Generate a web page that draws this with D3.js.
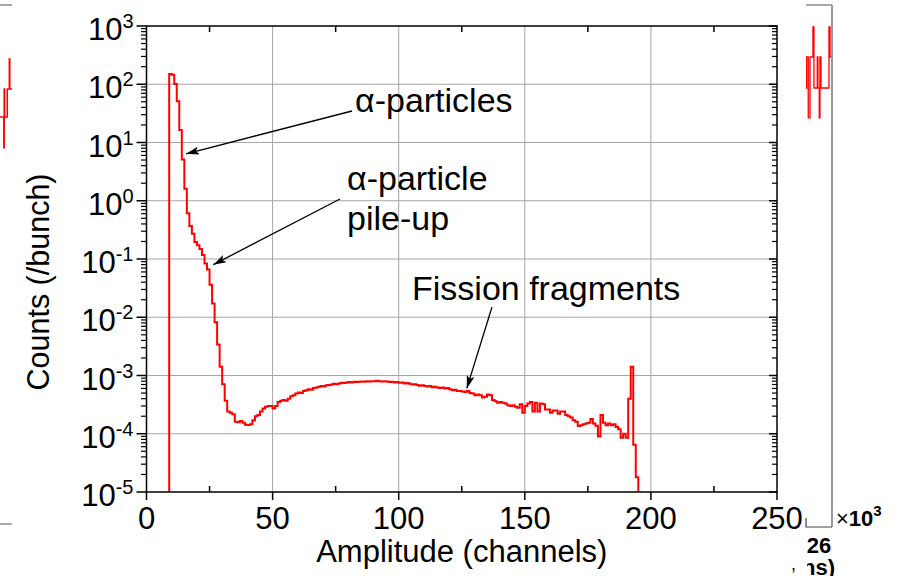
<!DOCTYPE html>
<html>
<head>
<meta charset="utf-8">
<script src="https://cdn.jsdelivr.net/npm/d3@7"></script>
<style>
  body { margin: 0; background: #fff; }
  svg { display: block; font-family: "Liberation Sans", Arial, sans-serif; }
</style>
</head>
<body>
<svg id="chart" width="902" height="576"></svg>
<script>
// ---- Spectrum data: counts per bunch, one bin per channel, starting at firstChannel ----
const firstChannel = 9;
const counts = [
  150, 145, 101, 51, 16.4, 5.1, 1.6, 0.61, 0.37, 0.27, 0.196, 0.172, 0.149, 0.117, 0.084, 0.066,
  0.036, 0.0173, 0.0082, 0.0034, 0.00142, 0.00071, 0.00037, 0.00024, 0.00023, 0.000216,
  1.6e-4, 1.58e-4, 1.65e-4, 1.55e-4, 1.43e-4, 1.42e-4, 1.45e-4, 1.7e-4, 2.0e-4, 2.1e-4,
  2.4e-4, 2.7e-4, 2.9e-4, 3.0e-4, 3.0e-4, 2.7e-4, 3.0e-4, 3.5e-4, 3.7e-4, 3.8e-4,
  3.7e-4, 4.0e-4, 4.4e-4, 4.6e-4, 4.9e-4, 5.1e-4, 5.0e-4, 5.4e-4, 5.6e-4, 5.8e-4,
  5.7e-4, 6.1e-4, 6.2e-4, 6.4e-4, 6.6e-4, 6.5e-4, 6.8e-4, 6.9e-4, 7.0e-4, 7.2e-4,
  7.1e-4, 7.3e-4, 7.5e-4, 7.4e-4, 7.6e-4, 7.7e-4, 7.6e-4, 7.8e-4, 7.7e-4, 7.8e-4,
  7.9e-4, 7.8e-4, 8.0e-4, 7.9e-4, 8.0e-4, 8.0e-4, 8.1e-4, 8.0e-4, 7.9e-4, 8.0e-4,
  7.9e-4, 7.7e-4, 7.8e-4, 7.6e-4, 7.7e-4, 7.5e-4, 7.6e-4, 7.3e-4, 7.4e-4, 7.2e-4,
  7.0e-4, 7.1e-4, 6.9e-4, 6.7e-4, 6.8e-4, 6.6e-4, 6.5e-4, 6.6e-4, 6.3e-4, 6.4e-4,
  6.2e-4, 6.1e-4, 6.2e-4, 6.0e-4, 6.1e-4, 5.8e-4, 5.6e-4, 5.7e-4, 5.4e-4, 5.4e-4,
  5.3e-4, 5.2e-4, 5.4e-4, 5.0e-4, 4.9e-4, 4.6e-4, 4.7e-4, 4.6e-4, 4.2e-4, 4.3e-4,
  4.7e-4, 4.6e-4, 3.8e-4, 3.6e-4, 3.4e-4, 3.5e-4, 3.4e-4, 3.3e-4, 3.1e-4, 3.0e-4,
  3.1e-4, 2.9e-4, 2.8e-4, 3.2e-4, 2.3e-4, 3.0e-4, 3.3e-4, 3.5e-4, 2.4e-4, 3.4e-4,
  2.4e-4, 3.3e-4, 3.2e-4, 2.6e-4, 2.6e-4, 2.3e-4, 2.5e-4, 2.5e-4, 2.2e-4, 2.4e-4,
  2.4e-4, 2.1e-4, 2.0e-4, 1.9e-4, 1.7e-4, 1.6e-4, 1.36e-4, 1.4e-4, 1.45e-4, 1.5e-4,
  1.55e-4, 1.8e-4, 1.5e-4, 1.37e-4, 0.9e-4, 2.1e-4, 1.55e-4, 1.4e-4, 1.5e-4, 1.4e-4,
  1.45e-4, 1.3e-4, 1.2e-4, 0.85e-4, 1.0e-4, 0.85e-4, 4.0e-4, 1.42e-3, 0.65e-4, 1.8e-5
];

// ---- Axes ----
const xDomain = [0, 250];
const xMajorTicks = [0, 50, 100, 150, 200, 250];
const xMinorTicks = [25, 75, 125, 175, 225];
const yDomain = [1e-5, 1e3];
const yDecades = [-5, -4, -3, -2, -1, 0, 1, 2, 3];
const xTitle = "Amplitude (channels)";
const yTitle = "Counts (/bunch)";

// ---- Annotations: label lines, arrow tip in data space ----
const annotations = [
  { lines: ["\u03b1-particles"], tip: [15.7, 6.4] },
  { lines: ["\u03b1-particle", "pile-up"], tip: [26.5, 0.08] },
  { lines: ["Fission fragments"], tip: [127, 6.0e-4] }
];

// ---- Neighbouring panels, cut at the picture edges ----
const leftPanelStarts = [0, 3.8, 4.2, 4.6, 7.3, 9.3, 9.8];
const leftPanelCounts = [18.8, 6.3, 50.8, 18.8, 50.8, 147, 50.8];
const leftPanelEnd = 12;
const rightPanelStarts = [0, 0.8, 2.6, 4.6, 8, 9.2, 13, 13.8, 15.3, 16.1, 17.3, 26.5, 27.7];
const rightPanelCounts = [52.6, 158, 18.2, 158, 458, 52.6, 158, 52.6, 18.2, 158, 52.6, 458, 158];
const rightPanelEnd = 30;
const rightPanelTick = "26";
const rightPanelTitleTail = "ns)";

const svg = d3.select("#chart");
const plot = { left: 146.5, right: 777, top: 26, bottom: 492 };

const x = d3.scaleLinear().domain(xDomain).range([plot.left, plot.right]);
const y = d3.scaleLog().domain(yDomain).range([plot.bottom, plot.top]).clamp(true);

const GRID = "#a6a6a6";
const RED = "#ff0000";

// grid
const grid = svg.append("g");
xMajorTicks.slice(1, -1).forEach(v => {
  grid.append("line").attr("x1", x(v)).attr("x2", x(v))
    .attr("y1", plot.top).attr("y2", plot.bottom)
    .attr("stroke", GRID).attr("stroke-width", 1);
});
yDecades.slice(1, -1).forEach(e => {
  grid.append("line").attr("x1", plot.left).attr("x2", plot.right)
    .attr("y1", y(Math.pow(10, e))).attr("y2", y(Math.pow(10, e)))
    .attr("stroke", GRID).attr("stroke-width", 1);
});

// spectrum as a step histogram
svg.append("clipPath").attr("id", "plotClip").append("rect")
  .attr("x", plot.left).attr("y", plot.top)
  .attr("width", plot.right - plot.left).attr("height", plot.bottom - plot.top);

const floor = yDomain[0];
const pts = [[firstChannel, floor]];
counts.forEach((c, i) => pts.push([firstChannel + i, c]));
const lastCh = firstChannel + counts.length;
pts.push([lastCh, counts[counts.length - 1]]);
pts.push([lastCh, floor]);

const step = d3.line().x(d => x(d[0])).y(d => y(d[1])).curve(d3.curveStepAfter);
svg.append("path").attr("d", step(pts))
  .attr("clip-path", "url(#plotClip)")
  .attr("fill", "none").attr("stroke", RED).attr("stroke-width", 2)
  .attr("stroke-linejoin", "miter");

// frame and ticks
const ax = svg.append("g").attr("stroke", "#000").attr("stroke-width", 1.5);
ax.append("rect").attr("x", plot.left).attr("y", plot.top)
  .attr("width", plot.right - plot.left).attr("height", plot.bottom - plot.top)
  .attr("fill", "none");

xMajorTicks.forEach(v => {
  ax.append("line").attr("x1", x(v)).attr("x2", x(v))
    .attr("y1", plot.bottom).attr("y2", plot.bottom + 8);
});
xMinorTicks.forEach(v => {
  ax.append("line").attr("x1", x(v)).attr("x2", x(v))
    .attr("y1", plot.bottom).attr("y2", plot.bottom - 6);
  ax.append("line").attr("x1", x(v)).attr("x2", x(v))
    .attr("y1", plot.top).attr("y2", plot.top + 6);
});
yDecades.forEach(e => {
  const v = Math.pow(10, e);
  ax.append("line").attr("x1", plot.left - 10).attr("x2", plot.left)
    .attr("y1", y(v)).attr("y2", y(v));
  ax.append("line").attr("x1", plot.right - 8).attr("x2", plot.right)
    .attr("y1", y(v)).attr("y2", y(v));
  if (e < 3) {
    for (let k = 2; k <= 9; k++) {
      const yy = y(k * v);
      ax.append("line").attr("x1", plot.left - 5.5).attr("x2", plot.left)
        .attr("y1", yy).attr("y2", yy).attr("stroke-width", 1.2);
      ax.append("line").attr("x1", plot.right - 5).attr("x2", plot.right)
        .attr("y1", yy).attr("y2", yy).attr("stroke-width", 1.2);
    }
  }
});

// tick labels
const lbl = svg.append("g").attr("fill", "#000");
xMajorTicks.forEach(v => {
  lbl.append("text").attr("x", x(v)).attr("y", plot.bottom + 37)
    .attr("text-anchor", "middle").attr("font-size", 31).text(v);
});
yDecades.forEach(e => {
  const t = lbl.append("text").attr("x", plot.left - 13).attr("y", y(Math.pow(10, e)) + 14)
    .attr("text-anchor", "end").attr("font-size", 31);
  t.append("tspan").text("10");
  t.append("tspan").attr("font-size", 20).attr("dy", -12).text(e);
});

// axis titles
lbl.append("text").attr("x", (plot.left + plot.right) / 2).attr("y", 562)
  .attr("text-anchor", "middle").attr("font-size", 31).text(xTitle);
lbl.append("text").attr("transform", "translate(49,282) rotate(-90)")
  .attr("text-anchor", "middle").attr("font-size", 30.5).text(yTitle);

// annotations with arrows
const defs = svg.append("defs");
defs.append("marker").attr("id", "arrowHead")
  .attr("viewBox", "0 0 13 8").attr("refX", 13).attr("refY", 4)
  .attr("markerWidth", 13).attr("markerHeight", 8)
  .attr("markerUnits", "userSpaceOnUse").attr("orient", "auto")
  .append("path").attr("d", "M0,0 L13,4 L0,8 L3,4 Z").attr("fill", "#000");

const labelPos = [
  { x: 355, y: 112, from: [352, 111] },
  { x: 347, y: 190, from: [340, 199] },
  { x: 412, y: 300, from: [492, 307] }
];
annotations.forEach((a, i) => {
  const p = labelPos[i];
  const t = lbl.append("text").attr("x", p.x).attr("y", p.y).attr("font-size", 34);
  a.lines.forEach((s, j) => {
    t.append("tspan").attr("x", p.x).attr("dy", j === 0 ? 0 : 40).text(s);
  });
  svg.append("line").attr("x1", p.from[0]).attr("y1", p.from[1])
    .attr("x2", x(a.tip[0])).attr("y2", y(a.tip[1]))
    .attr("stroke", "#000").attr("stroke-width", 1.3)
    .attr("marker-end", "url(#arrowHead)");
});

// ---- neighbouring panels at the edges ----
const sideY = d3.scaleLog().domain(yDomain).range([524, 5]);
function panelSteps(starts, vals, end, xs) {
  const p = starts.map((s, i) => [s, vals[i]]);
  p.push([end, vals[vals.length - 1]]);
  return d3.line().x(d => xs(d[0])).y(d => sideY(d[1])).curve(d3.curveStepAfter)(p);
}
// left neighbour
const leftX = d3.scaleLinear().domain([0, leftPanelEnd]).range([0, 12]);
svg.append("path").attr("d", panelSteps(leftPanelStarts, leftPanelCounts, leftPanelEnd, leftX))
  .attr("fill", "none").attr("stroke", RED).attr("stroke-width", 1.5);
svg.append("line").attr("x1", 0).attr("x2", 12).attr("y1", 5).attr("y2", 5)
  .attr("stroke", "#555").attr("stroke-width", 1);
svg.append("line").attr("x1", 0).attr("x2", 12).attr("y1", 524).attr("y2", 524)
  .attr("stroke", "#555").attr("stroke-width", 1);

// right neighbour
const rightX = d3.scaleLinear().domain([0, rightPanelEnd]).range([806, 832]);
svg.append("path").attr("d", panelSteps(rightPanelStarts, rightPanelCounts, rightPanelEnd, rightX))
  .attr("fill", "none").attr("stroke", RED).attr("stroke-width", 1.3);
const rf = svg.append("g").attr("fill", "none");
rf.append("line").attr("x1", 806).attr("x2", 832).attr("y1", 5).attr("y2", 5)
  .attr("stroke", "#555").attr("stroke-width", 1);
rf.append("line").attr("x1", 832).attr("x2", 832).attr("y1", 5).attr("y2", 527)
  .attr("stroke", "#999").attr("stroke-width", 2);
rf.append("path").attr("d", "M806,518V527H832")
  .attr("stroke", "#444").attr("stroke-width", 1.2);

const mult = svg.append("text").attr("x", 836).attr("y", 526).attr("font-size", 22).attr("fill", "#000");
mult.append("tspan").text("\u00d7");
mult.append("tspan").attr("font-weight", "bold").text("10");
mult.append("tspan").attr("font-weight", "bold").attr("font-size", 15).attr("dy", -10).text("3");

svg.append("text").attr("x", 819).attr("y", 553).attr("text-anchor", "middle")
  .attr("font-size", 22).attr("font-weight", "bold").text(rightPanelTick);
svg.append("clipPath").attr("id", "edgeClip").append("rect")
  .attr("x", 807).attr("y", 559).attr("width", 95).attr("height", 17);
svg.append("text").attr("x", 802).attr("y", 575).attr("clip-path", "url(#edgeClip)")
  .attr("font-size", 22).attr("font-weight", "bold").text(rightPanelTitleTail);
svg.append("text").attr("x", 791).attr("y", 570).attr("font-size", 18).text(",");
</script>
</body>
</html>
